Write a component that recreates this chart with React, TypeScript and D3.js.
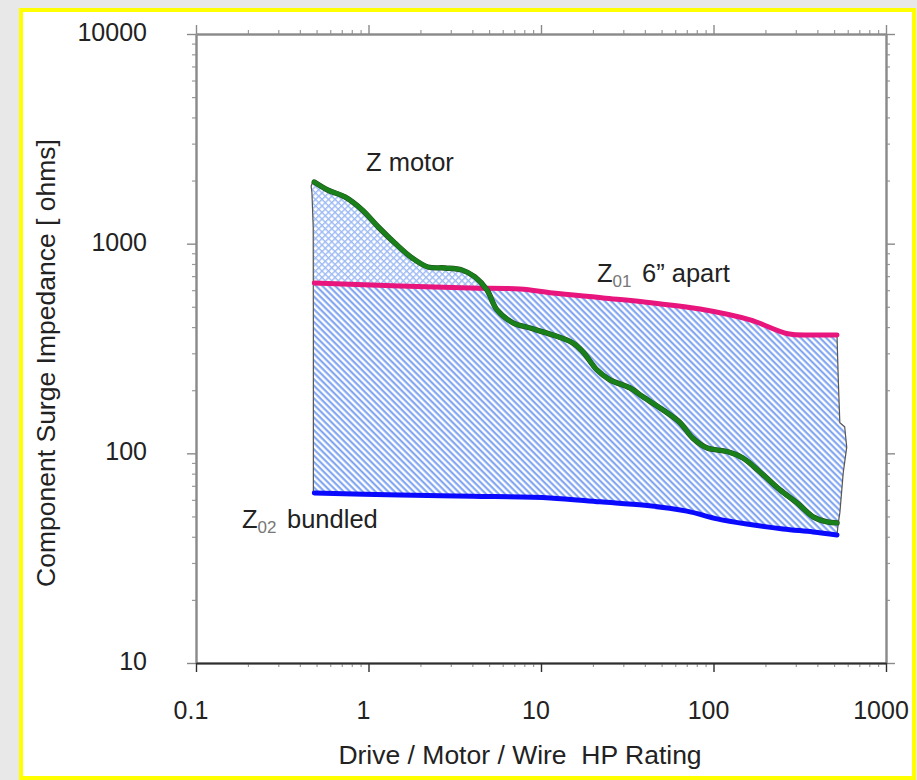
import React, { useEffect, useRef } from "react";
import * as d3 from "d3";

type P = [number, number];

// Tick values / labels
const X_MAJOR = [0.1, 1, 10, 100, 1000];
const X_TICK_LABELS = ["0.1", "1", "10", "100", "1000"];
const Y_MAJOR = [10, 100, 1000, 10000];
const Y_TICK_LABELS = ["10", "100", "1000", "10000"];

// Series (HP rating, ohms)
const Z_MOTOR: P[] = [
  [0.485, 1968], [0.58, 1803], [0.73, 1671], [0.92, 1448], [1.14, 1201], [1.42, 1008],
  [1.79, 855], [2.21, 774], [2.78, 766], [3.48, 749], [4.14, 694], [4.86, 602],
  [5.56, 483], [6.88, 419], [8.64, 396], [11.7, 367], [15.3, 336], [17.5, 305],
  [21.1, 250], [25.1, 224], [32.8, 205], [39, 186], [51, 161], [64, 140], [76, 118],
  [92, 106], [120, 102], [148, 95], [186, 81.5], [243, 66.9], [305, 58], [378, 49.8],
  [455, 47.1], [520, 46.6],
];
const Z01: P[] = [
  [0.485, 650], [1.52, 628], [3.88, 615], [7.55, 608], [11.7, 582], [22.9, 551],
  [44.6, 521], [83.5, 488], [163, 433], [270, 372], [380, 367], [520, 367],
];
const Z02: P[] = [
  [0.485, 64.7], [1.52, 63.3], [4, 62.5], [11.3, 61.3], [22, 58.7], [40, 56.5],
  [70, 53], [105, 48.7], [156, 46], [253, 43.6], [378, 42.2], [520, 40.8],
];
// Hand-drawn outline of the shaded region
const RIGHT_EDGE: P[] = [
  [520, 367], [529, 224], [540, 140], [576, 134], [592, 107], [565, 80.7], [540, 52],
  [529, 46.6], [520, 40.8],
];
const LEFT_EDGE: P[] = [
  [0.479, 64.7], [0.479, 400], [0.478, 1200], [0.47, 1750], [0.465, 1880], [0.474, 1960],
  [0.485, 1968],
];

const W = 917;
const H = 780;
const FONT = "'Liberation Sans', Arial, Helvetica, sans-serif";

export default function App() {
  const ref = useRef<SVGSVGElement>(null);

  useEffect(() => {
    const svg = d3.select(ref.current!);
    svg.selectAll("*").remove();

    const x = d3.scaleLog().domain([0.1, 1000]).range([196, 886]);
    const y = d3.scaleLog().domain([10, 10000]).range([663, 34]);

    const isMajor = (v: number) => Math.abs(Math.log10(v) - Math.round(Math.log10(v))) < 1e-9;
    const xMinor = x.ticks().filter((v) => !isMajor(v));
    const yMinor = y.ticks().filter((v) => !isMajor(v));

    // background + yellow frame
    svg.append("rect").attr("width", W).attr("height", H).attr("fill", "#e8e8e8");
    svg.append("rect").attr("x", 21).attr("y", 10).attr("width", 893).attr("height", 768)
      .attr("fill", "#ffffff").attr("stroke", "#ffff00").attr("stroke-width", 4);

    const defs = svg.append("defs");
    const diag = defs.append("pattern").attr("id", "diag").attr("patternUnits", "userSpaceOnUse")
      .attr("width", 8).attr("height", 4.5).attr("patternTransform", "rotate(45)");
    diag.append("rect").attr("width", 8).attr("height", 4.5).attr("fill", "#ffffff");
    diag.append("line").attr("x1", 0).attr("x2", 8).attr("y1", 1.2).attr("y2", 1.2)
      .attr("stroke", "#789ff0").attr("stroke-width", 2);

    const cross = defs.append("pattern").attr("id", "cross").attr("patternUnits", "userSpaceOnUse")
      .attr("width", 4.6).attr("height", 4.6).attr("patternTransform", "rotate(45)");
    cross.append("rect").attr("width", 4.6).attr("height", 4.6).attr("fill", "#ffffff");
    cross.append("line").attr("x1", 0).attr("x2", 4.6).attr("y1", 0.7).attr("y2", 0.7)
      .attr("stroke", "#9dbaf4").attr("stroke-width", 1.4);
    cross.append("line").attr("y1", 0).attr("y2", 4.6).attr("x1", 0.7).attr("x2", 0.7)
      .attr("stroke", "#9dbaf4").attr("stroke-width", 1.4);

    const smooth = d3.line<P>().x((d) => x(d[0])).y((d) => y(d[1])).curve(d3.curveCatmullRom.alpha(0.5));
    const straight = d3.line<P>().x((d) => x(d[0])).y((d) => y(d[1]));
    const cont = (s: string) => s.replace(/^M/, "L");
    const rev = (a: P[]) => a.slice().reverse();

    const pinkPath = smooth(Z01)!;
    defs.append("clipPath").attr("id", "abovePink").append("path")
      .attr("d", pinkPath + `L${W},${y(Z01[Z01.length - 1][1])}L${W},0L0,0L0,${y(Z01[0][1])}Z`);

    // diagonal-hatched region: Z01 down to Z02
    const diagD = pinkPath + cont(straight(RIGHT_EDGE)!) + cont(smooth(rev(Z02))!) +
      cont(straight(LEFT_EDGE.filter((d) => d[1] <= Z01[0][1]))!) + "Z";
    svg.append("path").attr("d", diagD).attr("fill", "url(#diag)");

    // cross-hatched region: above Z01, below Z motor
    const crossD = straight(LEFT_EDGE)! + cont(smooth(Z_MOTOR)!) + cont(smooth(rev(Z01))!) + "Z";
    svg.append("path").attr("d", crossD).attr("fill", "url(#cross)").attr("clip-path", "url(#abovePink)");

    // outlines
    svg.append("path").attr("d", straight(LEFT_EDGE)!).attr("fill", "none").attr("stroke", "#555").attr("stroke-width", 1.2);
    svg.append("path").attr("d", straight(RIGHT_EDGE)!).attr("fill", "none").attr("stroke", "#555").attr("stroke-width", 1.2);

    // series lines
    svg.append("path").attr("d", smooth(Z02)!).attr("fill", "none").attr("stroke", "#0a0aff")
      .attr("stroke-width", 5).attr("stroke-linecap", "round");
    svg.append("path").attr("d", pinkPath).attr("fill", "none").attr("stroke", "#e8157c")
      .attr("stroke-width", 5).attr("stroke-linecap", "round");
    svg.append("path").attr("d", smooth(Z_MOTOR)!).attr("fill", "none").attr("stroke", "#1d4a1d")
      .attr("stroke-width", 5.4).attr("stroke-linecap", "round");
    svg.append("path").attr("d", smooth(Z_MOTOR)!).attr("fill", "none").attr("stroke", "#1a801a")
      .attr("stroke-width", 4.4).attr("stroke-linecap", "round");

    // axes
    const styleAxis = (g: any, color: string, width: number) => {
      g.select(".domain").attr("stroke", color).attr("stroke-width", width);
      g.selectAll(".tick line").attr("stroke", color).attr("stroke-width", 1.4);
      g.selectAll(".tick text").remove();
    };
    const addAxis = (axisFn: any, scale: any, minors: number[], majors: number[], transform: string, color: string, w: number) => {
      const gMin = svg.append("g").attr("transform", transform)
        .call(axisFn(scale).tickValues(minors).tickSize(4).tickSizeOuter(0).tickFormat(() => ""));
      styleAxis(gMin, "#9a9a9a", w);
      gMin.selectAll(".tick line").attr("stroke-width", 1.2);
      const gMaj = svg.append("g").attr("transform", transform)
        .call(axisFn(scale).tickValues(majors).tickSize(9).tickSizeOuter(0).tickFormat(() => ""));
      styleAxis(gMaj, color, w);
    };
    addAxis(d3.axisTop, x, xMinor, X_MAJOR, "translate(0,34)", "#8a8a8a", 2);
    addAxis(d3.axisRight, y, yMinor, Y_MAJOR, "translate(886,0)", "#8a8a8a", 2);
    addAxis(d3.axisLeft, y, yMinor, Y_MAJOR, "translate(196,0)", "#8a8a8a", 2);
    addAxis(d3.axisBottom, x, xMinor, X_MAJOR, "translate(0,663)", "#2e2e2e", 2.2);

    // tick labels
    svg.append("g").selectAll("text").data(X_MAJOR).join("text")
      .attr("x", (d) => x(d) - 5).attr("y", 719).attr("text-anchor", "middle")
      .attr("font-family", FONT).attr("font-size", 25).attr("fill", "#222")
      .text((d, i) => X_TICK_LABELS[i]);
    svg.append("g").selectAll("text").data(Y_MAJOR).join("text")
      .attr("x", 147).attr("y", (d) => y(d) + 7).attr("text-anchor", "end")
      .attr("font-family", FONT).attr("font-size", 25).attr("fill", "#222")
      .text((d, i) => Y_TICK_LABELS[i]);

    // axis titles
    svg.append("text").attr("x", 520).attr("y", 764).attr("text-anchor", "middle")
      .attr("font-family", FONT).attr("font-size", 26.5).attr("fill", "#222")
      .style("white-space", "pre").text("Drive / Motor / Wire  HP Rating");
    svg.append("text").attr("transform", "translate(55,363) rotate(-90)").attr("text-anchor", "middle")
      .attr("font-family", FONT).attr("font-size", 26.5).attr("fill", "#222")
      .text("Component Surge Impedance [ ohms]");

    // series annotations
    const lab = (xx: number, yy: number) => svg.append("text").attr("x", xx).attr("y", yy)
      .attr("font-family", FONT).attr("font-size", 25.5).attr("fill", "#222");
    lab(366, 171).text("Z motor");
    const t1 = lab(597, 282);
    t1.append("tspan").text("Z");
    t1.append("tspan").attr("font-size", 17).attr("dy", 5).attr("fill", "#777").text("01");
    t1.append("tspan").attr("dy", -5).attr("dx", 10.5).text("6\u201D apart");
    const t2 = lab(242, 528);
    t2.append("tspan").text("Z");
    t2.append("tspan").attr("font-size", 17).attr("dy", 5).attr("fill", "#777").text("02");
    t2.append("tspan").attr("dy", -5).attr("dx", 10.5).text("bundled");
  }, []);

  return <svg ref={ref} width={W} height={H} style={{ position: "absolute", left: 0, top: 0 }} />;
}
